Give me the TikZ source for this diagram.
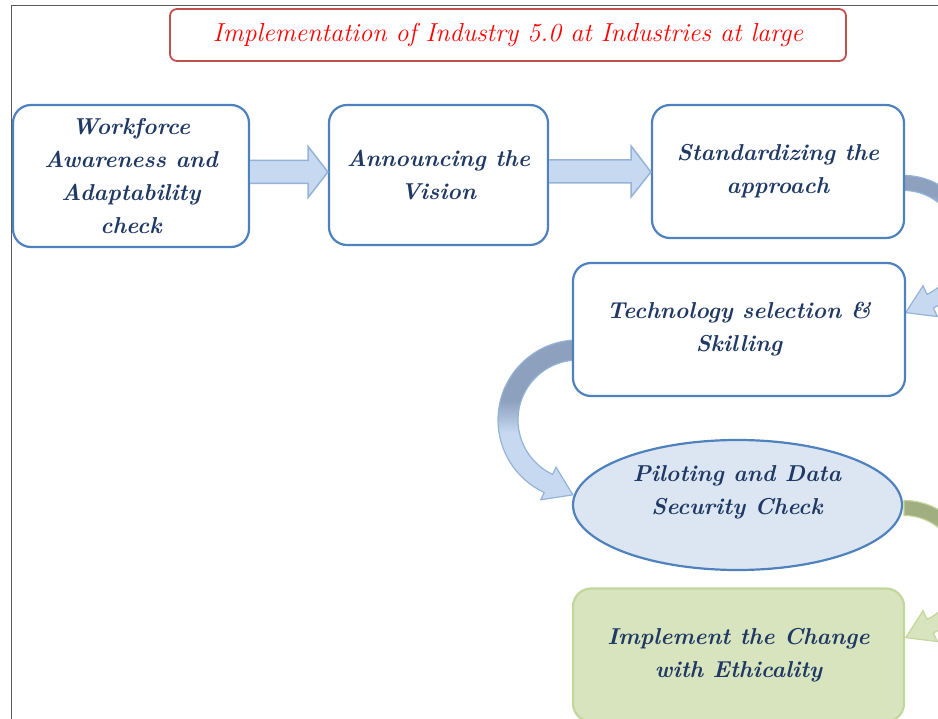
\documentclass[tikz,border=0pt]{standalone}
\usetikzlibrary{calc,shapes.geometric}
\definecolor{boxblue}{RGB}{79,129,189}
\definecolor{txtnavy}{RGB}{31,56,100}
\definecolor{arrfill}{RGB}{198,217,241}
\definecolor{arrline}{RGB}{149,179,215}
\definecolor{arrdark}{RGB}{141,160,190}
\definecolor{ellfill}{RGB}{220,230,242}
\definecolor{grnfill}{RGB}{215,228,189}
\definecolor{grnline}{RGB}{195,214,155}
\definecolor{grndark}{RGB}{160,174,128}
\definecolor{titlered}{RGB}{255,0,0}
\definecolor{titleline}{RGB}{192,80,77}
\definecolor{framegray}{RGB}{90,90,90}
\pgfdeclareverticalshading{bluetopA}{100bp}{color(0bp)=(arrfill); color(58bp)=(arrfill); color(68bp)=(arrdark); color(100bp)=(arrdark)}
\pgfdeclareverticalshading{bluetopB}{100bp}{color(0bp)=(arrfill); color(46bp)=(arrfill); color(56bp)=(arrdark); color(100bp)=(arrdark)}
\pgfdeclareverticalshading{grntopA}{100bp}{color(0bp)=(grnfill); color(58bp)=(grnfill); color(68bp)=(grndark); color(100bp)=(grndark)}
\begin{document}
\begin{tikzpicture}[x=1pt,y=-1pt,
  txt/.style={font=\fontsize{23}{33}\selectfont\bfseries\itshape, text=txtnavy, align=center},
  stepbox/.style={draw=boxblue, line width=2.2pt, rounded corners=18pt, fill=white},
  blockarr/.style={fill=arrfill, draw=arrline, line width=1.5pt, line join=miter},
  curvarr/.style={draw=arrline, line width=1.2pt},
  curvgrn/.style={draw=grnline, line width=1.2pt}]
\useasboundingbox (0,0) rectangle (938,719);
\clip (0,0) rectangle (938,719);
% frame
\draw[framegray, line width=1pt] (11,719) -- (11,6) -- (938,6);
% title
\node[draw=titleline, line width=1.8pt, rounded corners=7pt, fill=white,
  minimum width=676pt, minimum height=52pt, inner sep=0pt,
  font=\fontsize{26}{30}\selectfont\itshape, text=titlered] (title) at (508,35)
  {Implementation of Industry 5.0 at Industries at large};
% coordinates for curved arrows
\coordinate (c1) at (904,245);
\coordinate (c2) at (578,420);
\coordinate (c3) at (904,570);
% curved arrow 1 (box3 -> box4)
\path[curvarr, shading=bluetopA] (c1) ++(-90:69.5) arc[start angle=-90, end angle=65, radius=69.5]
  -- ($(c1)+(65:79)$) -- ($(c1)+(65:62)+(155:27)$) -- ($(c1)+(65:45)$)
  -- ($(c1)+(65:54.5)$) arc[start angle=65, end angle=-90, radius=54.5] -- cycle;
% curved arrow 2 (box4 -> ellipse)
\path[curvarr, shading=bluetopB] (c2) ++(-90:80) arc[start angle=-90, end angle=-245, radius=80]
  -- ($(c2)+(-245:88)$) -- ($(c2)+(-245:70)+(25:27)$) -- ($(c2)+(-245:52)$)
  -- ($(c2)+(-245:60)$) arc[start angle=-245, end angle=-90, radius=60] -- cycle;
% curved arrow 3 (ellipse -> green box)
\path[curvgrn, shading=grntopA] (c3) ++(-90:69.5) arc[start angle=-90, end angle=65, radius=69.5]
  -- ($(c3)+(65:79)$) -- ($(c3)+(65:62)+(155:27)$) -- ($(c3)+(65:45)$)
  -- ($(c3)+(65:54.5)$) arc[start angle=65, end angle=-90, radius=54.5] -- cycle;
% boxes
\node[stepbox, txt, minimum width=236pt, minimum height=142pt, inner sep=0pt] (b1) at (131,176)
  {Workforce\\Awareness and\\Adaptability\\check};
\node[stepbox, txt, minimum width=219pt, minimum height=140pt, inner sep=0pt] (b2) at (438.5,175)
  {Announcing the\\Vision};
\node[stepbox, txt, minimum width=252pt, minimum height=133pt, inner sep=0pt] (b3) at (778,171.5)
  {Standardizing the\\approach};
\node[stepbox, txt, minimum width=332pt, minimum height=133pt, inner sep=0pt] (b4) at (739,329.5)
  {Technology selection \&\\Skilling};
\node[ellipse, draw=boxblue, line width=2.2pt, fill=ellfill, minimum width=329pt, minimum height=130pt, inner sep=0pt] (el) at (737.5,505) {};
\node[txt] (ellabel) at (737,492) {Piloting and Data\\Security Check};
\node[draw=grnline, line width=2.2pt, rounded corners=18pt, fill=grnfill, txt,
  minimum width=331pt, minimum height=133pt, inner sep=0pt] (b6) at (738.5,655)
  {Implement the Change\\with Ethicality};
% straight block arrows
\path[blockarr] ($(b1.east)+(0,-15.5)$) -- ++(58,0) -- ++(0,-14) -- ($(b2.west)+(0,-3)$)
  -- ($(b1.east)+(58,-15.5+37)$) -- ++(0,-14) -- ($(b1.east)+(0,7.5)$) ;
\path[blockarr] ($(b2.east)+(0,-15)$) -- ++(82,0) -- ++(0,-14) -- ($(b3.west)+(0,0.5)$)
  -- ($(b2.east)+(82,-15+37)$) -- ++(0,-14) -- ($(b2.east)+(0,8)$) ;
\end{tikzpicture}
\end{document}
